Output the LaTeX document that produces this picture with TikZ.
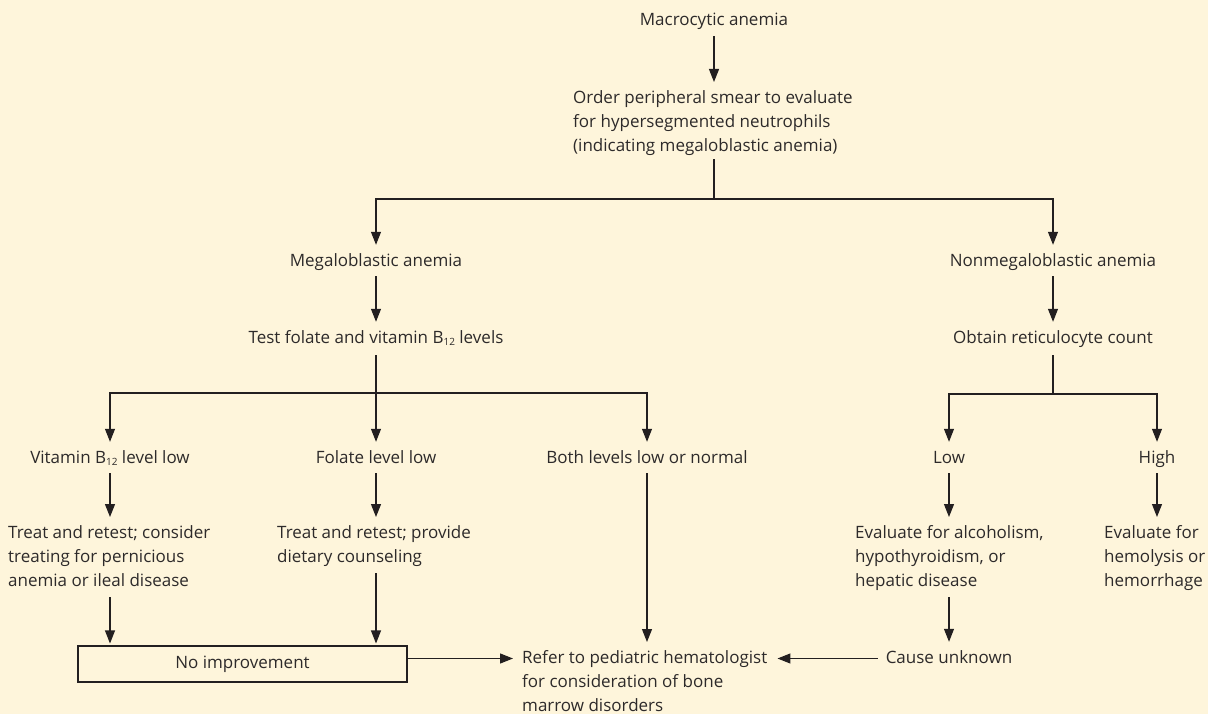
\documentclass[tikz,border=0pt]{standalone}
\usepackage{fontspec}
\setmainfont{Open Sans}
\usetikzlibrary{arrows.meta}
\definecolor{bgyel}{RGB}{254,245,219}
\definecolor{ink}{RGB}{35,31,32}
\definecolor{txtgray}{RGB}{45,42,42}
\newcommand\fstrut{\rule[-4pt]{0pt}{17pt}}
\newcommand\sub[1]{\raisebox{-2.5pt}{\fontsize{10}{10}\selectfont#1}}

\begin{document}
\begin{tikzpicture}[x=1pt,y=-1pt,
    every node/.style={inner sep=0pt, text=txtgray},
    lbl/.style={font=\fontsize{17}{24}\selectfont,
      execute at begin node=\fstrut, execute at end node=\fstrut},
    blk/.style={lbl, align=left, anchor=north west},
    wire/.style={draw=ink, line width=1.1pt},
    flow/.style={wire, -{Triangle[length=13pt,width=10pt]}, shorten >=8pt},
    endbox/.style={lbl, draw=ink, line width=1.1pt, minimum width=329pt, minimum height=36pt}]
  \path[use as bounding box, fill=bgyel] (0,0) rectangle (1208,714);

  \node[lbl, anchor=base] (mac) at (714,26) {Macrocytic anemia};
  \node[blk] (order) at (573,90) {Order peripheral smear to evaluate\\
    for hypersegmented neutrophils\\(indicating megaloblastic anemia)};
  \node[lbl, anchor=base] (meg) at (376,266) {Megaloblastic anemia};
  \node[lbl, anchor=base] (nonmeg) at (1053,266) {Nonmegaloblastic anemia};
  \node[lbl, anchor=base] (test) at (376,343) {Test folate and vitamin B\sub{12} levels};
  \node[lbl, anchor=base] (obtain) at (1053,343) {Obtain reticulocyte count};
  \node[lbl, anchor=base] (vit) at (110,463) {Vitamin B\sub{12} level low};
  \node[lbl, anchor=base] (fol) at (376,463) {Folate level low};
  \node[lbl, anchor=base] (both) at (647,463) {Both levels low or normal};
  \node[lbl, anchor=base] (low) at (949,463) {Low};
  \node[lbl, anchor=base] (high) at (1157,463) {High};
  \node[blk] (treatv) at (8,525) {Treat and retest; consider\\
    treating for pernicious\\anemia or ileal disease};
  \node[blk] (treatf) at (277,525) {Treat and retest; provide\\dietary counseling};
  \node[blk] (evalalc) at (855,525) {Evaluate for alcoholism,\\
    hypothyroidism, or\\hepatic disease};
  \node[blk] (evalhem) at (1104,525) {Evaluate for\\hemolysis or\\hemorrhage};
  \node[endbox] (noimp) at (242.5,664) {No improvement};
  \node[blk] (refer) at (522,650) {Refer to pediatric hematologist\\
    for consideration of bone\\marrow disorders};
  \node[lbl, anchor=base] (cause) at (949,663) {Cause unknown};

  \coordinate (split1) at (714,199);
  \coordinate (split2) at (376,393);
  \coordinate (split3) at (1053,394);

  \draw[flow, shorten <=6pt] (mac.south) -- (mac.south |- order.north);
  \draw[wire, shorten <=4pt] (split1 |- order.south) -- (split1);
  \draw[flow] (split1) -| (meg.north);
  \draw[flow] (split1) -| (nonmeg.north);
  \draw[flow, shorten <=6pt] (meg.south) -- (test.north);
  \draw[flow, shorten <=6pt] (nonmeg.south) -- (obtain.north);
  \draw[flow, shorten <=8pt] (test.south) -- (fol.north);
  \draw[flow] (split2) -| (vit.north);
  \draw[flow] (split2) -| (both.north);
  \draw[wire, shorten <=8pt] (obtain.south) -- (split3);
  \draw[flow] (split3) -| (low.north);
  \draw[flow] (split3) -| (high.north);
  \draw[flow, shorten <=6pt] (vit.south) -- (vit.south |- treatv.north);
  \draw[flow, shorten <=6pt] (fol.south) -- (fol.south |- treatf.north);
  \draw[flow, shorten <=6pt] (low.south) -- (low.south |- evalalc.north);
  \draw[flow, shorten <=6pt] (high.south) -- (high.south |- evalhem.north);
  \draw[flow, shorten <=7pt, shorten >=2pt] (vit.south |- treatv.south) -- (vit.south |- noimp.north);
  \draw[flow, shorten <=7pt, shorten >=2pt] (fol.south |- treatf.south) -- (fol.south |- noimp.north);
  \draw[flow, shorten <=6pt] (both.south) -- (both.south |- refer.north);
  \draw[flow, shorten <=7pt] (low.south |- evalalc.south) -- (cause.north);
  \draw[flow, shorten <=8pt, shorten >=10pt] (cause.west) -- (refer.east |- cause.west);
  \draw[flow, shorten >=9pt] (noimp.east |- cause.west) -- (refer.west |- cause.west);
\end{tikzpicture}
\end{document}
